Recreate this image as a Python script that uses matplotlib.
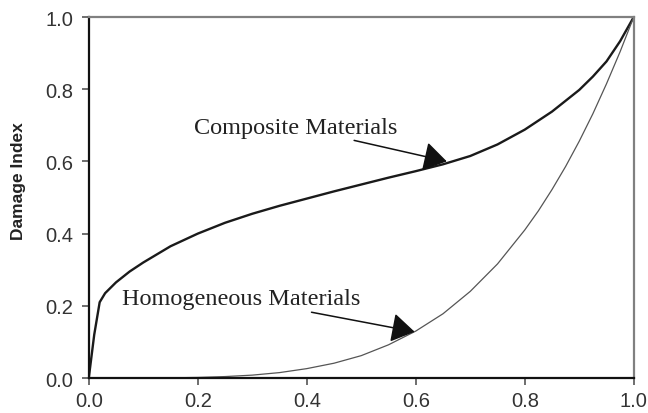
import matplotlib
matplotlib.use("Agg")
import matplotlib.pyplot as plt

# Damage index curves for the two material classes
comp_x = [0.0, 0.005, 0.01, 0.02, 0.03, 0.05, 0.075, 0.1, 0.15, 0.2, 0.25, 0.3,
          0.35, 0.4, 0.45, 0.5, 0.55, 0.6, 0.65, 0.7, 0.75, 0.8, 0.85, 0.9,
          0.925, 0.95, 0.975, 1.0]
comp_y = [0.0, 0.06, 0.12, 0.21, 0.235, 0.265, 0.295, 0.32, 0.365, 0.40, 0.43,
          0.455, 0.477, 0.497, 0.517, 0.536, 0.555, 0.573, 0.592, 0.615, 0.647,
          0.688, 0.738, 0.798, 0.835, 0.877, 0.933, 1.0]

homo_x = [0.0, 0.05, 0.1, 0.15, 0.2, 0.25, 0.3, 0.35, 0.4, 0.45, 0.5, 0.55,
          0.6, 0.65, 0.7, 0.75, 0.8, 0.825, 0.85, 0.875, 0.9, 0.925, 0.95,
          0.975, 1.0]
homo_y = [0.0, 0.0, 0.0001, 0.0005, 0.0016, 0.004, 0.008, 0.015, 0.026, 0.041,
          0.062, 0.092, 0.13, 0.178, 0.24, 0.316, 0.41, 0.463, 0.522, 0.586,
          0.656, 0.732, 0.815, 0.904, 1.0]

ticks = [0.0, 0.2, 0.4, 0.6, 0.8, 1.0]
tick_labels = ["0.0", "0.2", "0.4", "0.6", "0.8", "1.0"]

plt.rcParams["font.family"] = ["Liberation Sans", "DejaVu Sans"]

fig = plt.figure(figsize=(6.48, 4.14), dpi=100)
ax = fig.add_axes([0.137, 0.0845, 0.841, 0.872])

ax.plot(comp_x, comp_y, color="#1a1a1a", lw=1.7, solid_joinstyle="round")
ax.plot(homo_x, homo_y, color="#555555", lw=0.9, solid_joinstyle="round")

ax.set_xlim(0, 1)
ax.set_ylim(0, 1)
ax.set_xticks(ticks)
ax.set_xticklabels(tick_labels)
ax.set_yticks(ticks)
ax.set_yticklabels(tick_labels)

for side in ("left", "bottom"):
    ax.spines[side].set_color("#111111")
    ax.spines[side].set_linewidth(1.6)
for side in ("top", "right"):
    ax.spines[side].set_color("#808080")
    ax.spines[side].set_linewidth(1.6)

ax.tick_params(axis="both", direction="out", length=5, width=1.2,
               color="#555555", labelsize=14.5, labelcolor="#333333")
ax.tick_params(axis="y", pad=6)
ax.tick_params(axis="x", pad=4)

ax.set_ylabel("Damage Index", fontsize=12.5, fontweight="bold", color="#222222")
ax.yaxis.set_label_coords(-0.116, 0.548)

serif = ["Liberation Serif", "DejaVu Serif"]
arrow = dict(arrowstyle="-|>,head_length=0.6,head_width=0.38", color="#111111",
             lw=1.1, mutation_scale=24, shrinkA=0, shrinkB=0)

ax.annotate("Composite Materials", xy=(0.657, 0.600), xytext=(0.566, 0.695),
            ha="right", va="center", fontsize=17.5, family=serif,
            color="#222222", arrowprops=arrow)
ax.annotate("Homogeneous Materials", xy=(0.598, 0.128), xytext=(0.499, 0.219),
            ha="right", va="center", fontsize=17.5, family=serif,
            color="#222222", arrowprops=arrow)

fig.savefig("out.png", dpi=100)
